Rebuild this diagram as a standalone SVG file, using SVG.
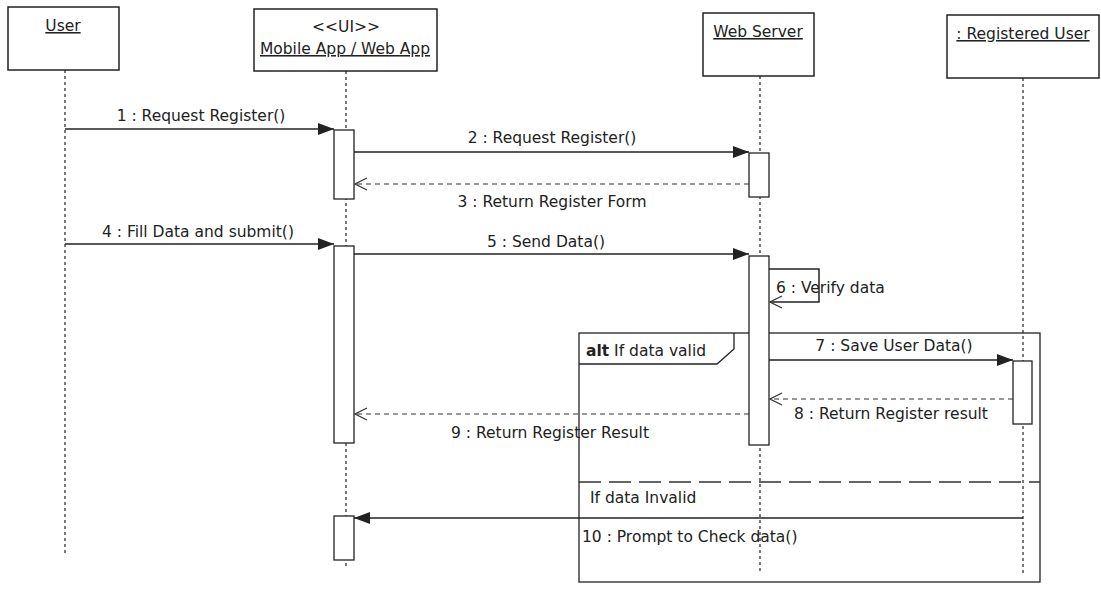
<svg xmlns="http://www.w3.org/2000/svg" width="1101" height="592" viewBox="0 0 1101 592">
<defs>
<style>
.box{fill:#fff;stroke:#222;stroke-width:1.5}
.life{stroke:#333;stroke-width:1.3;stroke-dasharray:3 3;fill:none}
.act{fill:#fff;stroke:#222;stroke-width:1.3}
.msg{stroke:#222;stroke-width:1.5;fill:none}
.ret{stroke:#333;stroke-width:1.2;stroke-dasharray:5 4;fill:none}
.frame{stroke:#222;stroke-width:1.3;fill:none}
.div{stroke:#333;stroke-width:1.5;stroke-dasharray:22 8;fill:none}
text{font-family:"DejaVu Sans",Verdana,sans-serif;font-size:15.5px;fill:#222}
.h{font-size:15.5px;text-decoration:underline}
.c{text-anchor:middle}
</style>
<marker id="filled" viewBox="0 0 16 12" refX="16" refY="6" markerWidth="16" markerHeight="12" markerUnits="userSpaceOnUse" orient="auto">
<path d="M0,0 L16,6 L0,12 Z" fill="#222"/>
</marker>
<marker id="open" viewBox="0 0 14 14" refX="13" refY="7" markerWidth="14" markerHeight="14" markerUnits="userSpaceOnUse" orient="auto">
<path d="M1,1 L13,7 L1,13" fill="none" stroke="#333" stroke-width="1.2"/>
</marker>
</defs>
<rect width="1101" height="592" fill="#fff"/>

<g id="lifelines">
<line class="life" x1="65" y1="70" x2="65" y2="556"/>
<line class="life" x1="346" y1="71" x2="346" y2="567"/>
<line class="life" x1="760" y1="76" x2="760" y2="572"/>
<line class="life" x1="1023" y1="78" x2="1023" y2="573"/>
</g>

<g id="user">
<rect class="box" x="8" y="7" width="111" height="63"/>
<text class="h c" x="63" y="31">User</text>
</g>
<g id="ui">
<rect class="box" x="254" y="9" width="183" height="62"/>
<text class="c" x="346" y="32">&lt;&lt;UI&gt;&gt;</text>
<text class="h c" x="345" y="54">Mobile App / Web App</text>
</g>
<g id="webserver">
<rect class="box" x="703" y="13" width="111" height="63"/>
<text class="h c" x="758" y="37">Web Server</text>
</g>
<g id="registereduser">
<rect class="box" x="947" y="15" width="152" height="63"/>
<text class="h c" x="1023" y="39">: Registered User</text>
</g>

<g id="alt-frame">
<rect class="frame" x="579" y="333" width="461" height="249"/>
<path class="frame" d="M579,364 L717,364 L734,349 L734,333"/>
<text x="586" y="356"><tspan font-weight="bold">alt</tspan> If data valid</text>
<line class="div" x1="579" y1="482" x2="1040" y2="482"/>
<text x="590" y="503">If data Invalid</text>
</g>

<g id="activations">
<rect class="act" x="334" y="130" width="20" height="69"/>
<rect class="act" x="334" y="246" width="20" height="197"/>
<rect class="act" x="334" y="516" width="20" height="44"/>
<rect class="act" x="749" y="153" width="20" height="44"/>
<rect class="act" x="749" y="256" width="20" height="189"/>
<rect class="act" x="1013" y="361" width="19" height="63"/>
</g>

<g id="connectors">
<line class="msg" x1="65" y1="129" x2="334" y2="129" marker-end="url(#filled)"/>
<text class="c" x="201" y="121">1 : Request Register()</text>
<line class="msg" x1="354" y1="152" x2="749" y2="152" marker-end="url(#filled)"/>
<text class="c" x="552" y="143">2 : Request Register()</text>
<line class="ret" x1="749" y1="184" x2="355" y2="184" marker-end="url(#open)"/>
<text class="c" x="552" y="207">3 : Return Register Form</text>
<line class="msg" x1="65" y1="244" x2="334" y2="244" marker-end="url(#filled)"/>
<text class="c" x="198" y="237">4 : Fill Data and submit()</text>
<line class="msg" x1="354" y1="254" x2="749" y2="254" marker-end="url(#filled)"/>
<text class="c" x="546" y="247">5 : Send Data()</text>
<polyline class="msg" points="769,269 819,269 819,302 770,302" marker-end="url(#open)"/>
<text x="776" y="293">6 : Verify data</text>
<line class="msg" x1="769" y1="360" x2="1013" y2="360" marker-end="url(#filled)"/>
<text class="c" x="894" y="351">7 : Save User Data()</text>
<line class="ret" x1="1013" y1="399" x2="770" y2="399" marker-end="url(#open)"/>
<text class="c" x="891" y="419">8 : Return Register result</text>
<line class="ret" x1="749" y1="414" x2="355" y2="414" marker-end="url(#open)"/>
<text class="c" x="550" y="438">9 : Return Register Result</text>
<line class="msg" x1="1023" y1="518" x2="354" y2="518" marker-end="url(#filled)"/>
<text x="582" y="542">10 : Prompt to Check data()</text>
</g>
</svg>
